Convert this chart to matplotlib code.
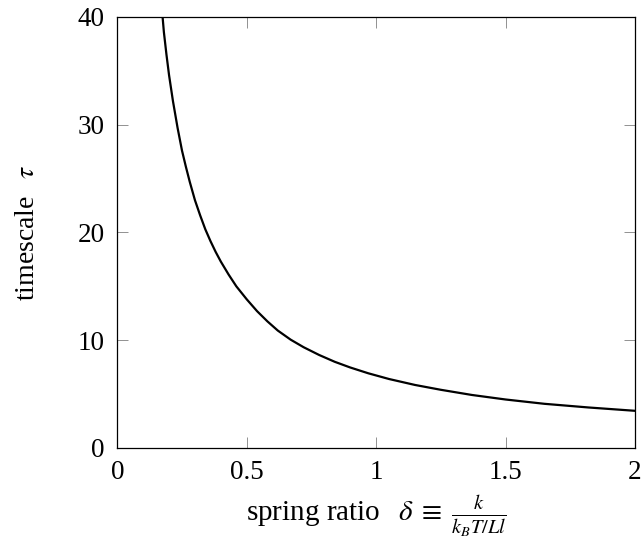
import matplotlib
matplotlib.use("Agg")
import matplotlib.pyplot as plt

# values
delta = [0.175, 0.18, 0.19, 0.20, 0.215, 0.233, 0.25, 0.265, 0.28, 0.30, 0.32, 0.34,
         0.36, 0.38, 0.40, 0.43, 0.46, 0.50, 0.54, 0.58, 0.62, 0.67, 0.72, 0.78,
         0.84, 0.90, 0.97, 1.05, 1.15, 1.25, 1.37, 1.50, 1.65, 1.82, 2.00]
tau = [40.0, 38.6, 36.5, 34.6, 32.2, 29.7, 27.6, 26.1, 24.7, 23.0, 21.6, 20.3,
       19.2, 18.2, 17.3, 16.1, 15.0, 13.8, 12.7, 11.75, 10.9, 10.05, 9.35, 8.63,
       8.0, 7.47, 6.93, 6.4, 5.85, 5.4, 4.92, 4.5, 4.1, 3.76, 3.45]

xticks = [0, 0.5, 1, 1.5, 2]
xticklabels = ['0', '0.5', '1', '1.5', '2']
yticks = [0, 10, 20, 30, 40]

plt.rcParams['font.family'] = ['Liberation Serif', 'DejaVu Serif']
plt.rcParams['mathtext.fontset'] = 'stix'

fig = plt.figure(figsize=(6.42, 5.43), dpi=100)
ax = fig.add_axes([0.1827, 0.175, 0.8063, 0.7937])

ax.plot(delta, tau, color='black', linewidth=1.6, solid_joinstyle='round')

ax.set_xlim(0, 2)
ax.set_ylim(0, 40)
ax.set_xticks(xticks)
ax.set_xticklabels(xticklabels)
ax.set_yticks(yticks)

ax.tick_params(direction='in', length=8, width=0.6, color='0.5',
               top=True, right=True, labelsize=19.5, pad=9)
for s in ax.spines.values():
    s.set_linewidth(0.9)

ax.set_xlabel(r'spring ratio $\;\;\delta \;\equiv\; \frac{k}{k_B T/Ll}$',
              fontsize=21, labelpad=6)
ax.set_ylabel(r'timescale $\;\;\tau$', fontsize=20, labelpad=27)

fig.savefig('out.png', dpi=100)
